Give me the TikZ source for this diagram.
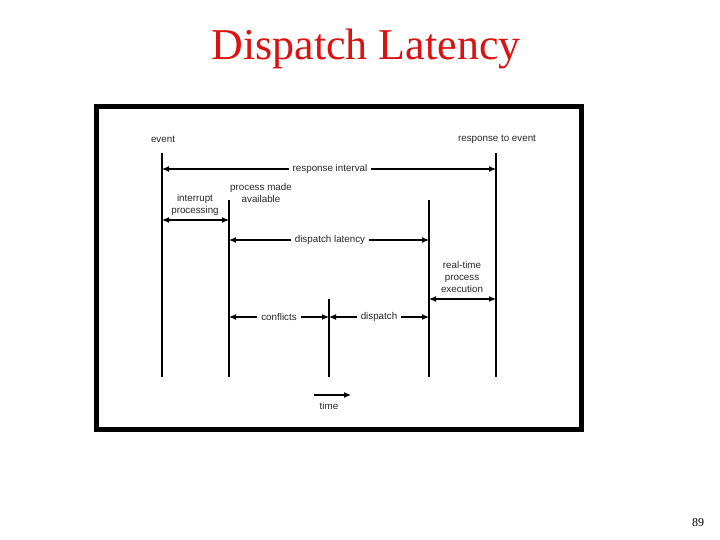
\documentclass[tikz,border=0pt]{standalone}
\usepackage{fontspec}
\setmainfont{Liberation Serif}
\newfontfamily\diagfont{Liberation Sans}
\usetikzlibrary{arrows.meta}
\definecolor{titlered}{RGB}{218,18,18}
\begin{document}
\begin{tikzpicture}[x=1pt,y=-1pt,
  vline/.style={line width=1.1pt},
  span/.style={line width=1.1pt,{Latex[length=7pt,width=6pt]}-{Latex[length=7pt,width=6pt]}},
  lbl/.style={font=\diagfont\fontsize{9.8}{11}\selectfont,inner sep=1pt,text=black!85},
  gaplbl/.style={lbl,fill=white,inner xsep=4pt},
  mlbl/.style={lbl,align=center,font=\diagfont\fontsize{9.8}{12}\selectfont}]
\useasboundingbox (0,0) rectangle (720,540);
% title
\node[text=titlered,font=\fontsize{44}{48}\selectfont,anchor=base] (title) at (366,60) {Dispatch Latency};
% frame
\draw[line width=5pt] (96.5,106.5) rectangle (581.5,429.5);
% vertical lines
\coordinate (aT) at (162,153); \coordinate (aB) at (162,377);
\coordinate (bT) at (229,200); \coordinate (bB) at (229,377);
\coordinate (cT) at (329,299); \coordinate (cB) at (329,377);
\coordinate (dT) at (429,200); \coordinate (dB) at (429,377);
\coordinate (eT) at (496,153); \coordinate (eB) at (496,377);
\draw[vline] (aT) -- (aB);
\draw[vline] (bT) -- (bB);
\draw[vline] (cT) -- (cB);
\draw[vline] (dT) -- (dB);
\draw[vline] (eT) -- (eB);
% top labels
\node[lbl] (ev) at (163,139) {event};
\node[lbl] (rte) at (497,139) {response to event};
% response interval
\coordinate (ri1) at (162,169); \coordinate (ri2) at (496,169);
\draw[span] (ri1) -- (ri2);
\node[gaplbl] (ri) at (330,169) {response interval};
% interrupt processing
\coordinate (ip1) at (162,220); \coordinate (ip2) at (229,220);
\draw[span] (ip1) -- (ip2);
\node[mlbl] (ip) at (195,204.5) {interrupt\\processing};
\node[mlbl] (pma) at (261,192.5) {process made\\available};
% dispatch latency
\coordinate (dl1) at (229,240); \coordinate (dl2) at (429,240);
\draw[span] (dl1) -- (dl2);
\node[gaplbl] (dl) at (330,240) {dispatch latency};
% real-time process execution
\coordinate (rt1) at (429,299); \coordinate (rt2) at (496,299);
\draw[span] (rt1) -- (rt2);
\node[mlbl] (rt) at (462,277) {real-time\\process\\execution};
% conflicts & dispatch
\coordinate (cf1) at (229,317); \coordinate (cf2) at (329,317);
\coordinate (dp2) at (429,317);
\draw[span] (cf1) -- (cf2);
\draw[span] (cf2) -- (dp2);
\node[gaplbl] (cf) at (279,317) {conflicts};
\node[gaplbl] (dp) at (379,317) {dispatch};
% time
\coordinate (t1) at (314,395); \coordinate (t2) at (351,395);
\draw[line width=1.1pt,-{Latex[length=7pt,width=6pt]}] (t1) -- (t2);
\node[lbl] (time) at (329,405.5) {time};
% page number
\node[font=\fontsize{12}{14}\selectfont] (pg) at (698,523) {89};
\end{tikzpicture}
\end{document}
